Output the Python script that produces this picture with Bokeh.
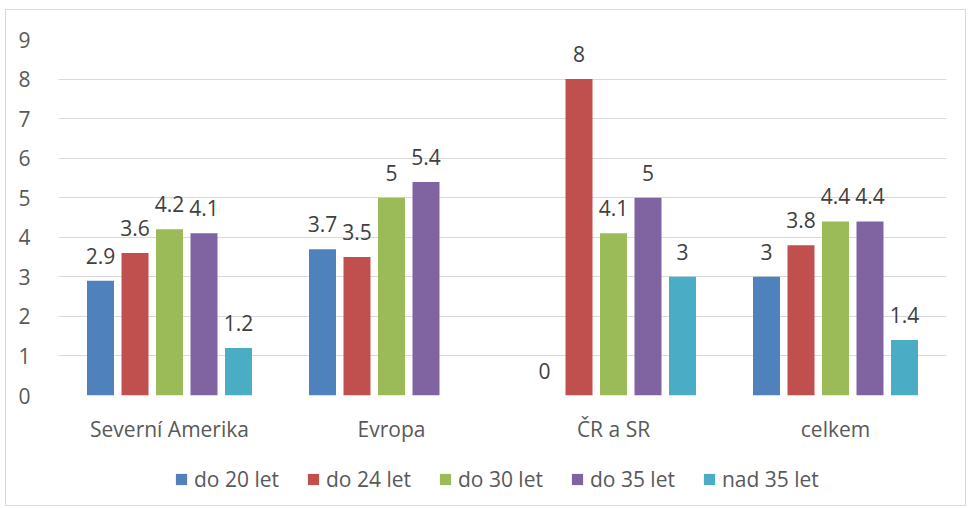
from bokeh.plotting import figure
from bokeh.layouts import column
from bokeh.models import ColumnDataSource, FactorRange, Range1d, Legend, LegendItem, FixedTicker
from bokeh.transform import dodge
from bokeh.core.properties import value
from bokeh.embed import file_html
from bokeh.resources import INLINE

categories = ["Severní Amerika", "Evropa", "ČR a SR", "celkem"]
series = ["do 20 let", "do 24 let", "do 30 let", "do 35 let", "nad 35 let"]
do_20 = [2.9, 3.7, 0, 3]
do_24 = [3.6, 3.5, 8, 3.8]
do_30 = [4.2, 5, 4.1, 4.4]
do_35 = [4.1, 5.4, 5, 4.4]
nad_35 = [1.2, None, 3, 1.4]
y_ticks = [0, 1, 2, 3, 4, 5, 6, 7, 8, 9]

values = [do_20, do_24, do_30, do_35, nad_35]
colors = ["#4F81BD", "#C0504D", "#9BBB59", "#8064A2", "#4BACC6"]

FONT = "Open Sans"
TXT = "#595959"
FS = "21px"
W = 959

p = figure(
    x_range=FactorRange(*categories, range_padding=0),
    y_range=Range1d(0, 9),
    width=W, height=440,
    output_backend="svg", toolbar_location=None,
    min_border_left=52, min_border_right=19, min_border_top=29, min_border_bottom=55,
)
p.outline_line_color = None
p.background_fill_color = "white"
p.border_fill_color = "white"

p.xgrid.grid_line_color = None
p.ygrid.grid_line_color = "#D9D9D9"
p.ygrid.grid_line_width = 1
p.yaxis.ticker = FixedTicker(ticks=y_ticks)

for ax in (p.xaxis[0], p.yaxis[0]):
    ax.axis_line_color = None
    ax.major_tick_line_color = None
    ax.minor_tick_line_color = None
    ax.major_label_text_font = FONT
    ax.major_label_text_font_size = FS
    ax.major_label_text_color = TXT
p.yaxis.major_label_standoff = 22
p.xaxis.major_label_standoff = 13

slot = 34.5 / 222.0
bar_w = 27.0 / 222.0

# legend strip (second figure sharing the category axis; its y-range lies
# above the data, so the proxy bars are clipped and only the legend shows)
lg = figure(width=W, height=55, output_backend="svg", toolbar_location=None,
            x_range=p.x_range, y_range=Range1d(100, 101),
            min_border_left=0, min_border_right=0, min_border_top=0, min_border_bottom=0)
lg.outline_line_color = None
lg.xaxis.visible = False
lg.yaxis.visible = False
lg.xgrid.visible = False
lg.ygrid.visible = False
lg.border_fill_color = "white"

items = []
for i, (name, vals, col) in enumerate(zip(series, values, colors)):
    xs, ys, labels = [], [], []
    for c, v in zip(categories, vals):
        if v is None:
            continue
        xs.append(c)
        ys.append(v)
        labels.append(f"{v:g}")
    src = ColumnDataSource(dict(cat=xs, val=ys, lab=labels))
    off = (i - 2) * slot
    p.vbar(x=dodge("cat", off, range=p.x_range), top="val", width=bar_w,
           source=src, fill_color=col, line_color=None)
    p.text(x=dodge("cat", off, range=p.x_range), y="val", text="lab", source=src,
           text_align="center", text_baseline="alphabetic", y_offset=-25,
           text_font=value(FONT), text_font_size=FS, text_color="#404040")
    proxy = lg.vbar(x=dodge("cat", off, range=lg.x_range), top="val", width=bar_w,
                    source=src, fill_color=col, line_color=None)
    items.append(LegendItem(label=name, renderers=[proxy]))

legend = Legend(items=items, orientation="horizontal", location=(116, 12),
                glyph_width=14, glyph_height=14, label_standoff=6, spacing=27,
                label_text_font=FONT, label_text_font_size=FS, label_text_color=TXT,
                border_line_color=None, background_fill_alpha=0, padding=4, margin=0)
lg.add_layout(legend)

layout = column(p, lg, spacing=0,
                styles={"border": "1px solid #D9D9D9", "margin-left": "5px", "margin-top": "9px"})

open("out.html", "w").write(file_html(layout, INLINE))
